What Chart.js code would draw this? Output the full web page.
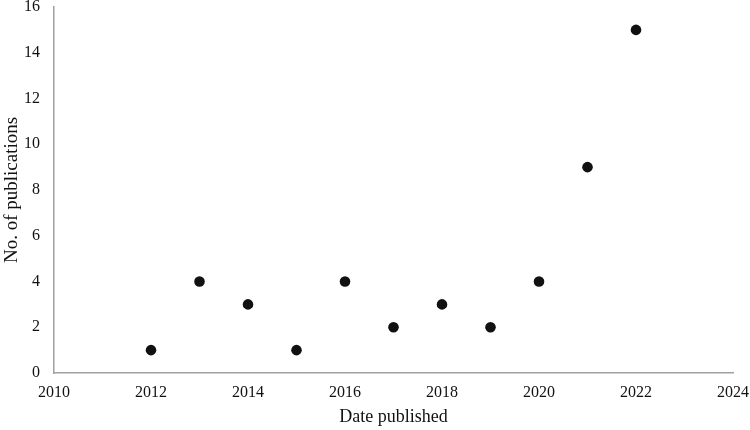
<!DOCTYPE html>
<html>
<head>
<meta charset="utf-8">
<script src="https://cdn.jsdelivr.net/npm/chart.js@4/dist/chart.umd.min.js"></script>
<style>
html,body{margin:0;padding:0;background:#fff;}
#wrap{width:750px;height:430px;}
</style>
</head>
<body>
<div id="wrap"><canvas id="c" width="750" height="430"></canvas></div>
<script>
const years = [2012, 2013, 2014, 2015, 2016, 2017, 2018, 2019, 2020, 2021, 2022];
const publications = [1, 4, 3, 1, 4, 2, 3, 2, 4, 9, 15];
const xTitle = 'Date published';
const yTitle = 'No. of publications';

const points = years.map((y, i) => ({x: y, y: publications[i]}));
const serif = '"Liberation Serif", "Times New Roman", serif';

new Chart(document.getElementById('c'), {
  type: 'scatter',
  data: {
    datasets: [{
      data: points,
      backgroundColor: '#111111',
      borderColor: '#111111',
      pointRadius: 5.3,
      pointHoverRadius: 5.3,
      borderWidth: 0
    }]
  },
  options: {
    responsive: false,
    animation: false,
    devicePixelRatio: 1,
    layout: {padding: {top: 7, right: 17, left: 0, bottom: 0}},
    plugins: {legend: {display: false}, tooltip: {enabled: false}},
    scales: {
      x: {
        type: 'linear',
        min: 2010, max: 2024,
        grid: {display: false, drawTicks: false},
        border: {display: true, color: '#a0a0a0', width: 1.5},
        ticks: {stepSize: 2, padding: 10, color: '#111', font: {family: serif, size: 16}, callback: v => String(v), maxRotation: 0},
        title: {display: true, text: xTitle, color: '#111', font: {family: serif, size: 18}, padding: {top: 0, bottom: 2}},
        afterFit: s => { s.height = 57; s.paddingLeft = 0; s.paddingRight = 0; }
      },
      y: {
        type: 'linear',
        min: 0, max: 16,
        grid: {display: false, drawTicks: false},
        border: {display: true, color: '#a0a0a0', width: 1.5},
        ticks: {stepSize: 2, padding: 14, color: '#111', font: {family: serif, size: 16}},
        title: {display: true, text: yTitle, color: '#111', font: {family: serif, size: 19}, padding: {top: 1, bottom: 0}},
        afterFit: s => { s.width = 54; s.paddingTop = 0; s.paddingBottom = 0; }
      }
    }
  }
});
</script>
</body>
</html>
